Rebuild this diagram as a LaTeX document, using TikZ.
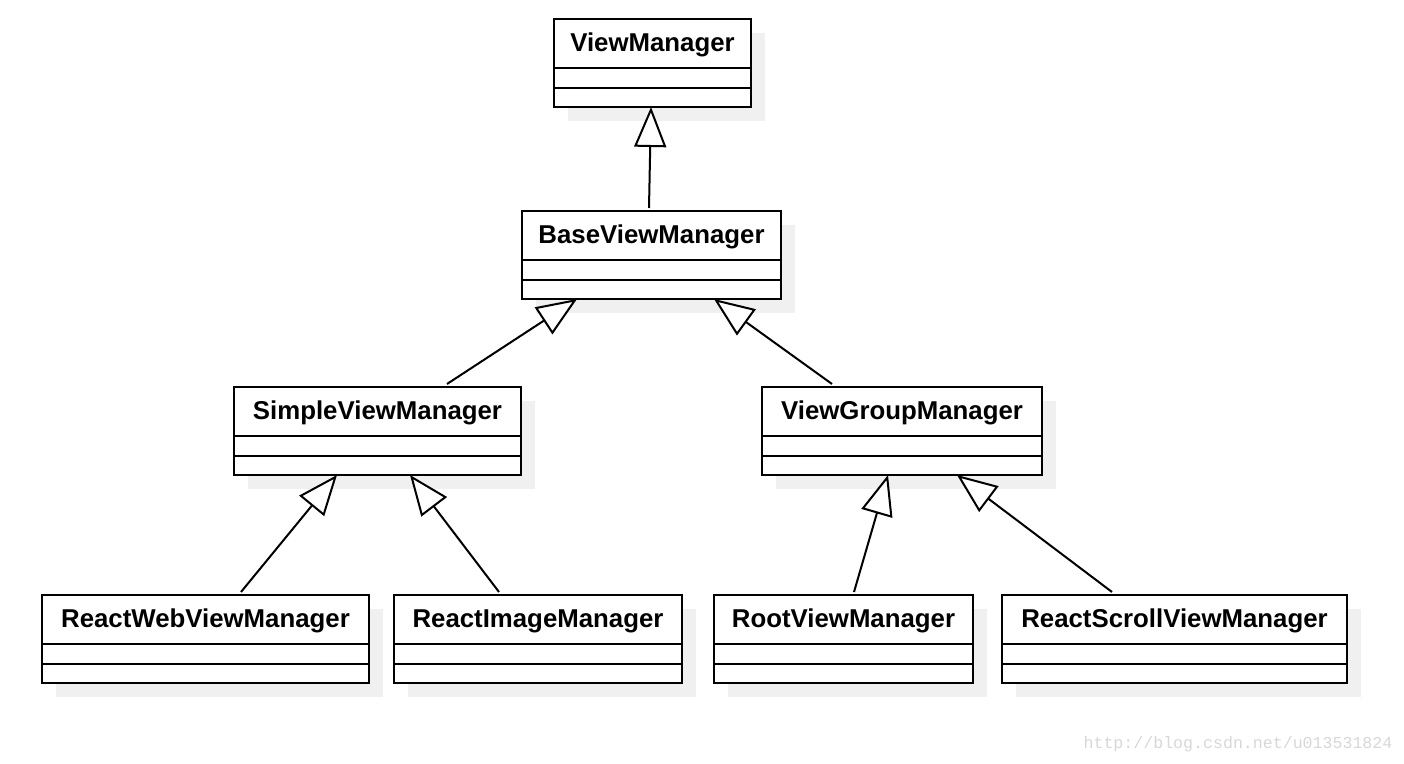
\documentclass[tikz,border=0pt]{standalone}
\usepackage{fontspec}
\setmainfont{Liberation Sans}
\newfontfamily\wmfont{Liberation Mono}
\usetikzlibrary{arrows.meta,calc,shadows}
\definecolor{shadowgray}{RGB}{240,240,240}
\definecolor{wmgray}{RGB}{215,215,215}
\tikzset{
  classbox/.style={draw=black, line width=1pt, fill=white, rectangle, inner sep=0pt,
    minimum height=44pt,
    drop shadow={shadow xshift=7pt, shadow yshift=-7pt, fill=shadowgray, opacity=1}},
  classname/.style={font=\bfseries\fontsize{12.9pt}{15pt}\selectfont, inner sep=0pt, anchor=base},
  sepline/.style={line width=1pt},
  inherit/.style={line width=1pt, -{Triangle[length=20pt, width=16pt, fill=white]}},
}
\newcommand\umlclass[5]{%
  \node[classbox, minimum width=#4*0.5pt, anchor=north] (#1) at (#2,#3) {};
  \node[classname] (#1-t) at ($(#1.north)+(0,34)$) {#5};
  \draw[sepline] ($(#1.north west)+(0,50)$) -- ($(#1.north east)+(0,50)$);
  \draw[sepline] ($(#1.north west)+(0,70)$) -- ($(#1.north east)+(0,70)$);
}
\begin{document}
\begin{tikzpicture}[x=0.5pt,y=-0.5pt]
\useasboundingbox (0,0) rectangle (1404,764);
\umlclass{vm}{652.5}{18}{197}{ViewManager}
\umlclass{bvm}{651.5}{210}{259}{BaseViewManager}
\umlclass{svm}{377.5}{386}{287}{SimpleViewManager}
\umlclass{vgm}{902}{386}{280}{ViewGroupManager}
\umlclass{rwv}{205.5}{594}{327}{ReactWebViewManager}
\umlclass{rim}{538}{594}{288}{ReactImageManager}
\umlclass{rvm}{843.5}{594}{259}{RootViewManager}
\umlclass{rsv}{1174.5}{594}{345}{ReactScrollViewManager}

\draw[inherit] ($(bvm.north west)+(128,-2)$) -- ($(vm.south west)+(98,-1)$);
\draw[inherit] ($(svm.north west)+(214,-2)$) -- ($(bvm.south west)+(56,-1)$);
\draw[inherit] ($(vgm.north west)+(71,-2)$) -- ($(bvm.south west)+(193,-1)$);
\draw[inherit] ($(rwv.north west)+(200,-2)$) -- ($(svm.south west)+(104,-1)$);
\draw[inherit] ($(rim.north west)+(106,-2)$) -- ($(svm.south west)+(177,-1)$);
\draw[inherit] ($(rvm.north west)+(141,-2)$) -- ($(vgm.south west)+(127,-1)$);
\draw[inherit] ($(rsv.north west)+(111,-2)$) -- ($(vgm.south west)+(196,-1)$);

\node[font=\wmfont\fontsize{8.3pt}{10pt}\selectfont, text=wmgray, inner sep=0pt] (wm) at (1238,744) {http://blog.csdn.net/u013531824};
\end{tikzpicture}
\end{document}
